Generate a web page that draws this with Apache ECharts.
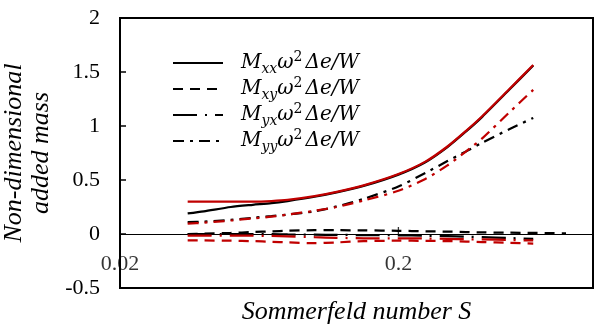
<!DOCTYPE html>
<html>
<head>
<meta charset="utf-8">
<script src="https://cdn.jsdelivr.net/npm/echarts@6/dist/echarts.min.js"></script>
<style>html,body{margin:0;padding:0;background:#fff;}#c{width:595px;height:325px;}</style>
</head>
<body>
<div id="c"></div>
<script>
// Sommerfeld number samples
const S = [0.035, 0.04, 0.05, 0.06, 0.07, 0.08, 0.1, 0.12, 0.15, 0.2, 0.25, 0.3, 0.35, 0.4, 0.5, 0.61];
const S_mxyBlack = [0.035, 0.04, 0.05, 0.06, 0.07, 0.08, 0.1, 0.12, 0.15, 0.2, 0.25, 0.3, 0.35, 0.4, 0.5, 0.61, 0.7, 0.8];

// black set
const mxxBlack = [0.19, 0.21, 0.25, 0.27, 0.285, 0.305, 0.345, 0.385, 0.445, 0.55, 0.665, 0.805, 0.95, 1.085, 1.335, 1.56];
const mxyBlack = [0.0, 0.003, 0.01, 0.018, 0.025, 0.03, 0.035, 0.035, 0.034, 0.03, 0.025, 0.022, 0.018, 0.015, 0.012, 0.01, 0.008, 0.006];
const myxBlack = [0, 0, 0, 0, -0.002, -0.004, -0.006, -0.008, -0.01, -0.012, -0.016, -0.02, -0.025, -0.03, -0.038, -0.045];
const myyBlack = [0.11, 0.115, 0.13, 0.15, 0.165, 0.18, 0.21, 0.255, 0.325, 0.44, 0.565, 0.675, 0.765, 0.845, 0.97, 1.075];

// red set
const mxxRed = [0.30, 0.30, 0.30, 0.30, 0.305, 0.315, 0.35, 0.39, 0.45, 0.555, 0.67, 0.81, 0.955, 1.09, 1.34, 1.565];
const mxyRed = [-0.06, -0.06, -0.062, -0.066, -0.072, -0.078, -0.085, -0.078, -0.066, -0.062, -0.063, -0.066, -0.07, -0.075, -0.082, -0.088];
const myxRed = [-0.015, -0.015, -0.015, -0.016, -0.018, -0.022, -0.03, -0.035, -0.04, -0.04, -0.042, -0.045, -0.048, -0.05, -0.055, -0.06];
const myyRed = [0.095, 0.105, 0.125, 0.145, 0.16, 0.18, 0.215, 0.25, 0.31, 0.40, 0.51, 0.635, 0.765, 0.885, 1.125, 1.335];

// x tick labels
const xTickLabels = [0.02, 0.2];

const names = ['Mxx', 'Mxy', 'Myx', 'Myy'];
const subs = {Mxx: 'xx', Mxy: 'xy', Myx: 'yx', Myy: 'yy'};

const BLACK = '#000000', RED = '#C00000';
const dash = {
  Mxx: 'solid',
  Mxy: [10, 7],
  Myx: [24, 8, 2, 8],
  Myy: [11, 6, 3, 6]
};

function pairs(xs, ys) { return ys.map((v, i) => [xs[i], v]); }

function lineSeries(name, xs, ys, color) {
  return {
    name: name, type: 'line', data: pairs(xs, ys),
    symbol: 'none', showSymbol: false, smooth: 0.25, silent: true,
    lineStyle: {color: color, width: 2.25, type: dash[name], cap: 'butt'},
    itemStyle: {color: color}
  };
}

const series = [
  lineSeries('Mxx', S, mxxBlack, BLACK),
  lineSeries('Mxy', S_mxyBlack, mxyBlack, BLACK),
  lineSeries('Myx', S, myxBlack, BLACK),
  lineSeries('Myy', S, myyBlack, BLACK),
  lineSeries('Mxx', S, mxxRed, RED),
  lineSeries('Mxy', S, mxyRed, RED),
  lineSeries('Myx', S, myxRed, RED),
  lineSeries('Myy', S, myyRed, RED),
  {
    name: 'ticks', type: 'scatter', silent: true,
    data: xTickLabels.map(v => [v, 0]),
    symbol: 'rect', symbolSize: [1.3, 7], symbolOffset: [0, -3.5],
    itemStyle: {color: '#000'},
    clip: false,
    label: {
      show: true, position: 'bottom', distance: 19,
      formatter: p => String(p.value[0]),
      fontFamily: 'Liberation Serif', fontSize: 22, color: '#000'
    },
    z: 5
  }
];

const serif = 'DejaVu Serif';
const chart = echarts.init(document.getElementById('c'), null, {renderer: 'canvas'});
chart.setOption({
  animation: false,
  backgroundColor: '#fff',
  grid: {left: 120, right: 2, top: 18, bottom: 37, show: true, borderColor: '#000', borderWidth: 2,
         backgroundColor: 'transparent', containLabel: false, outerBoundsMode: 'none'},
  legend: {
    data: names.map(n => ({name: n, itemStyle: {opacity: 0}})),
    orient: 'vertical',
    left: 167, top: 45,
    itemWidth: 50, itemHeight: 14, itemGap: 0,
    selectedMode: false,
    itemStyle: {opacity: 0},
    formatter: n => '{m|M}{s|' + subs[n] + '}{w|ω}{p|2}{d|Δe/W}',
    textStyle: {
      color: '#000',
      rich: {
        m: {fontFamily: serif, fontStyle: 'italic', fontSize: 20, lineHeight: 26, padding: [0, 0, 0, 13], color: '#000'},
        s: {fontFamily: serif, fontStyle: 'italic', fontSize: 14, lineHeight: 26, verticalAlign: 'bottom', color: '#000'},
        w: {fontFamily: serif, fontStyle: 'italic', fontSize: 20, lineHeight: 26, color: '#000'},
        p: {fontFamily: serif, fontSize: 14, lineHeight: 26, verticalAlign: 'top', color: '#000'},
        d: {fontFamily: serif, fontStyle: 'italic', fontSize: 20, lineHeight: 26, padding: [0, 0, 0, 3], color: '#000'}
      }
    }
  },
  xAxis: {
    type: 'log', logBase: 10, min: 0.02, max: 1,
    name: 'Sommerfeld number S', nameLocation: 'middle', nameGap: 11,
    nameTextStyle: {fontFamily: 'Liberation Serif', fontStyle: 'italic', fontSize: 26, color: '#000'},
    axisLine: {show: true, onZero: true, lineStyle: {color: '#000', width: 1.2}},
    axisTick: {show: false},
    axisLabel: {show: false},
    splitLine: {show: false},
    minorSplitLine: {show: false}
  },
  yAxis: {
    type: 'value', min: -0.5, max: 2, interval: 0.5,
    name: 'Non-dimensional\nadded mass', nameLocation: 'middle', nameRotate: 90, nameGap: 48,
    nameTextStyle: {fontFamily: 'Liberation Serif', fontStyle: 'italic', fontSize: 26, lineHeight: 27, color: '#000'},
    axisLine: {show: false},
    axisTick: {show: true, inside: true, length: 6, lineStyle: {color: '#000', width: 1.5}},
    axisLabel: {fontFamily: 'Liberation Serif', fontSize: 22, color: '#000', margin: 20},
    splitLine: {show: false}
  },
  series: series
});
</script>
</body>
</html>
